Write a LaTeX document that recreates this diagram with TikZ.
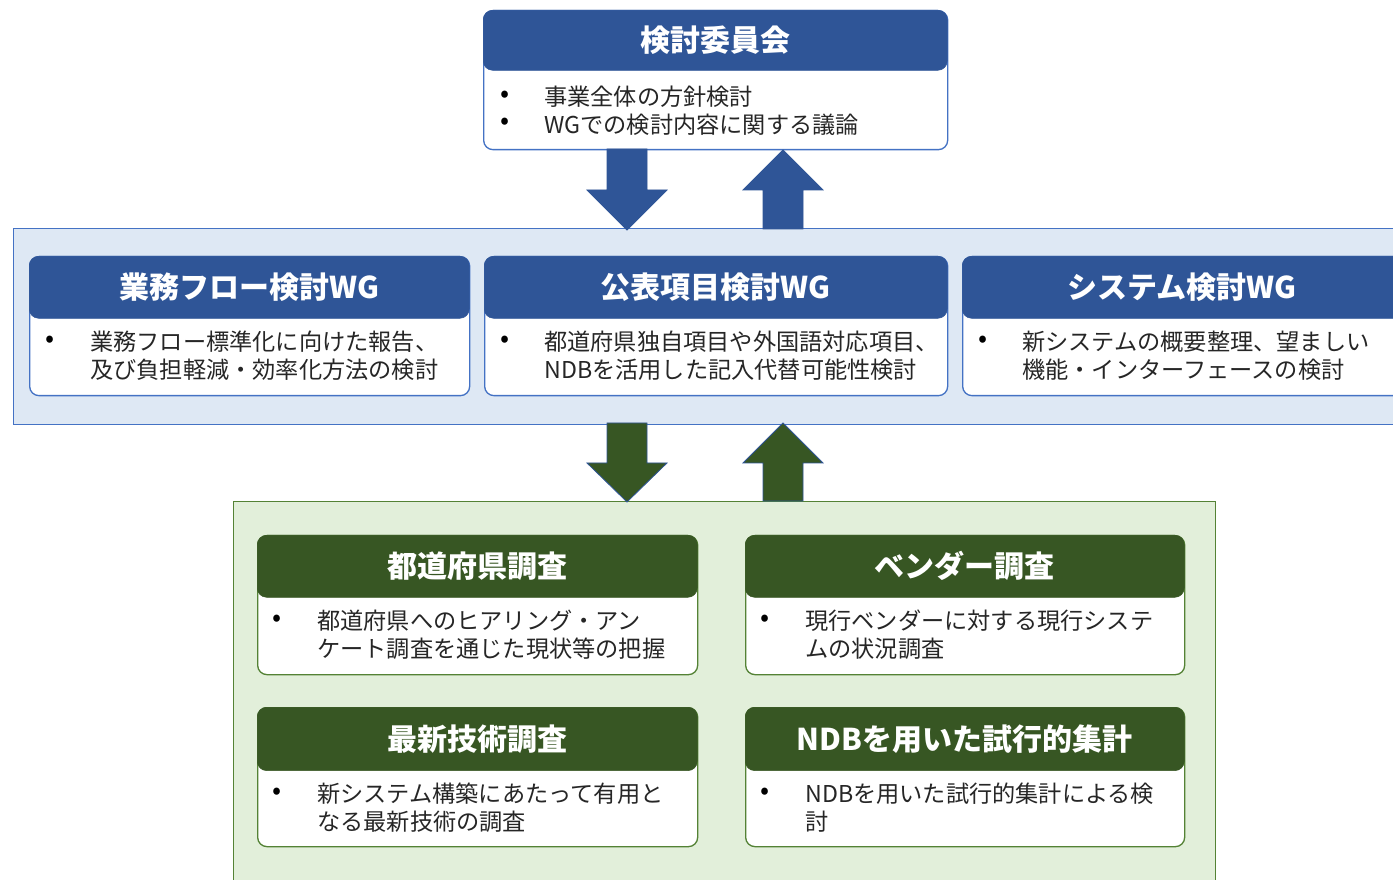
\documentclass[tikz,border=0pt]{standalone}
\usepackage{fontspec}
\setmainfont{Noto Sans CJK JP}
\definecolor{dblue}{HTML}{2F5597}
\definecolor{mblue}{HTML}{4472C4}
\definecolor{lblue}{HTML}{DEE8F4}
\definecolor{dgreen}{HTML}{375623}
\definecolor{mgreen}{HTML}{548235}
\definecolor{lgreen}{HTML}{E2EFDA}
\definecolor{txt}{HTML}{262626}
\tikzset{
  bodybox/.style={draw=#1, line width=1pt, fill=white, rounded corners=7pt, anchor=north west, inner sep=0pt, minimum height=104.25pt},
  headbox/.style={fill=#1, draw=#1, rounded corners=7pt, anchor=north west, inner sep=0pt, text=white, font=\fontsize{22.5}{27}\selectfont\bfseries},
  bodytext/.style={anchor=west, inner sep=0pt, align=left, text=txt, font=\fontsize{17.4}{21}\selectfont},
  bul/.style={inner sep=0pt, text=black, font=\fontsize{20}{22}\selectfont},
  barrow/.style={fill=#1, draw=#1, line width=0.6pt},
}
\begin{document}
\begin{tikzpicture}[x=0.75pt,y=-0.75pt]
\clip (0,0) rectangle (1393,880);
\fill[white] (0,0) rectangle (1393,880);

% bands
\node[draw=mblue, fill=lblue, line width=1pt, anchor=north west, inner sep=0pt, minimum width=1040pt, minimum height=147pt] (wgband) at (13,228) {};
\node[draw=mgreen, fill=lgreen, line width=1pt, anchor=north west, inner sep=0pt, minimum width=736.5pt, minimum height=300pt] (svband) at (233,501) {};

% top committee
\node[bodybox=mblue, minimum width=348pt] (top) at (483,10) {};
\node[headbox=dblue, minimum width=348pt, minimum height=45pt] (toph) at (483,10) {検討委員会};
\node[bul] (topb1) at (505,97) {•};
\node[bul] (topb2) at (505,124) {•};
\node[bodytext] (topt) at (544,110.5) {事業全体の方針検討\\WGでの検討内容に関する議論};

% arrows committee <-> WG
\draw[barrow=dblue] (607,149) -- (647,149) -- (647,190) -- (667,190) -- (627,230) -- (587,190) -- (607,190) -- cycle;
\draw[barrow=dblue] (763,229) -- (803,229) -- (803,190) -- (823,190) -- (783,150) -- (743,190) -- (763,190) -- cycle;

% WG boxes
\node[bodybox=mblue, minimum width=330pt] (wg1) at (29,256) {};
\node[headbox=dblue, minimum width=330pt, minimum height=46.5pt] (wg1h) at (29,256) {業務フロー検討WG};
\node[bul] (wg1b) at (50,342) {•};
\node[bodytext] (wg1t) at (90,356) {業務フロー標準化に向けた報告、\\及び負担軽減・効率化方法の検討};

\node[bodybox=mblue, minimum width=347.25pt] (wg2) at (484,256) {};
\node[headbox=dblue, minimum width=347.25pt, minimum height=46.5pt] (wg2h) at (484,256) {公表項目検討WG};
\node[bul] (wg2b) at (505,342) {•};
\node[bodytext] (wg2t) at (544,356) {都道府県独自項目や外国語対応項目、\\NDBを活用した記入代替可能性検討};

\node[bodybox=mblue, minimum width=330pt] (wg3) at (962,256) {};
\node[headbox=dblue, minimum width=330pt, minimum height=46.5pt] (wg3h) at (962,256) {システム検討WG};
\node[bul] (wg3b) at (983,342) {•};
\node[bodytext] (wg3t) at (1022,356) {新システムの概要整理、望ましい\\機能・インターフェースの検討};

% arrows WG <-> surveys
\draw[barrow=dgreen, draw=dblue] (607,423) -- (647,423) -- (647,463) -- (667,463) -- (627,502) -- (587,463) -- (607,463) -- cycle;
\draw[barrow=dgreen, draw=dblue] (763,501) -- (803,501) -- (803,463) -- (823,463) -- (783,423) -- (743,463) -- (763,463) -- cycle;

% survey boxes
\node[bodybox=mgreen, minimum width=330pt] (sa) at (257,535) {};
\node[headbox=dgreen, minimum width=330pt, minimum height=46.5pt] (sah) at (257,535) {都道府県調査};
\node[bul] (sab) at (277,621) {•};
\node[bodytext] (sat) at (317,635) {都道府県へのヒアリング・アン\\ケート調査を通じた現状等の把握};

\node[bodybox=mgreen, minimum width=329.25pt] (sb) at (745,535) {};
\node[headbox=dgreen, minimum width=329.25pt, minimum height=46.5pt] (sbh) at (745,535) {ベンダー調査};
\node[bul] (sbb) at (765,621) {•};
\node[bodytext] (sbt) at (805,635) {現行ベンダーに対する現行システ\\ムの状況調査};

\node[bodybox=mgreen, minimum width=330pt] (sc) at (257,707) {};
\node[headbox=dgreen, minimum width=330pt, minimum height=47.5pt] (sch) at (257,707) {最新技術調査};
\node[bul] (scb) at (277,794) {•};
\node[bodytext] (sct) at (317,808) {新システム構築にあたって有用と\\なる最新技術の調査};

\node[bodybox=mgreen, minimum width=329.25pt] (sd) at (745,707) {};
\node[headbox=dgreen, minimum width=329.25pt, minimum height=47.5pt] (sdh) at (745,707) {NDBを用いた試行的集計};
\node[bul] (sdb) at (765,794) {•};
\node[bodytext] (sdt) at (805,808) {NDBを用いた試行的集計による検\\討};
\end{tikzpicture}
\end{document}
